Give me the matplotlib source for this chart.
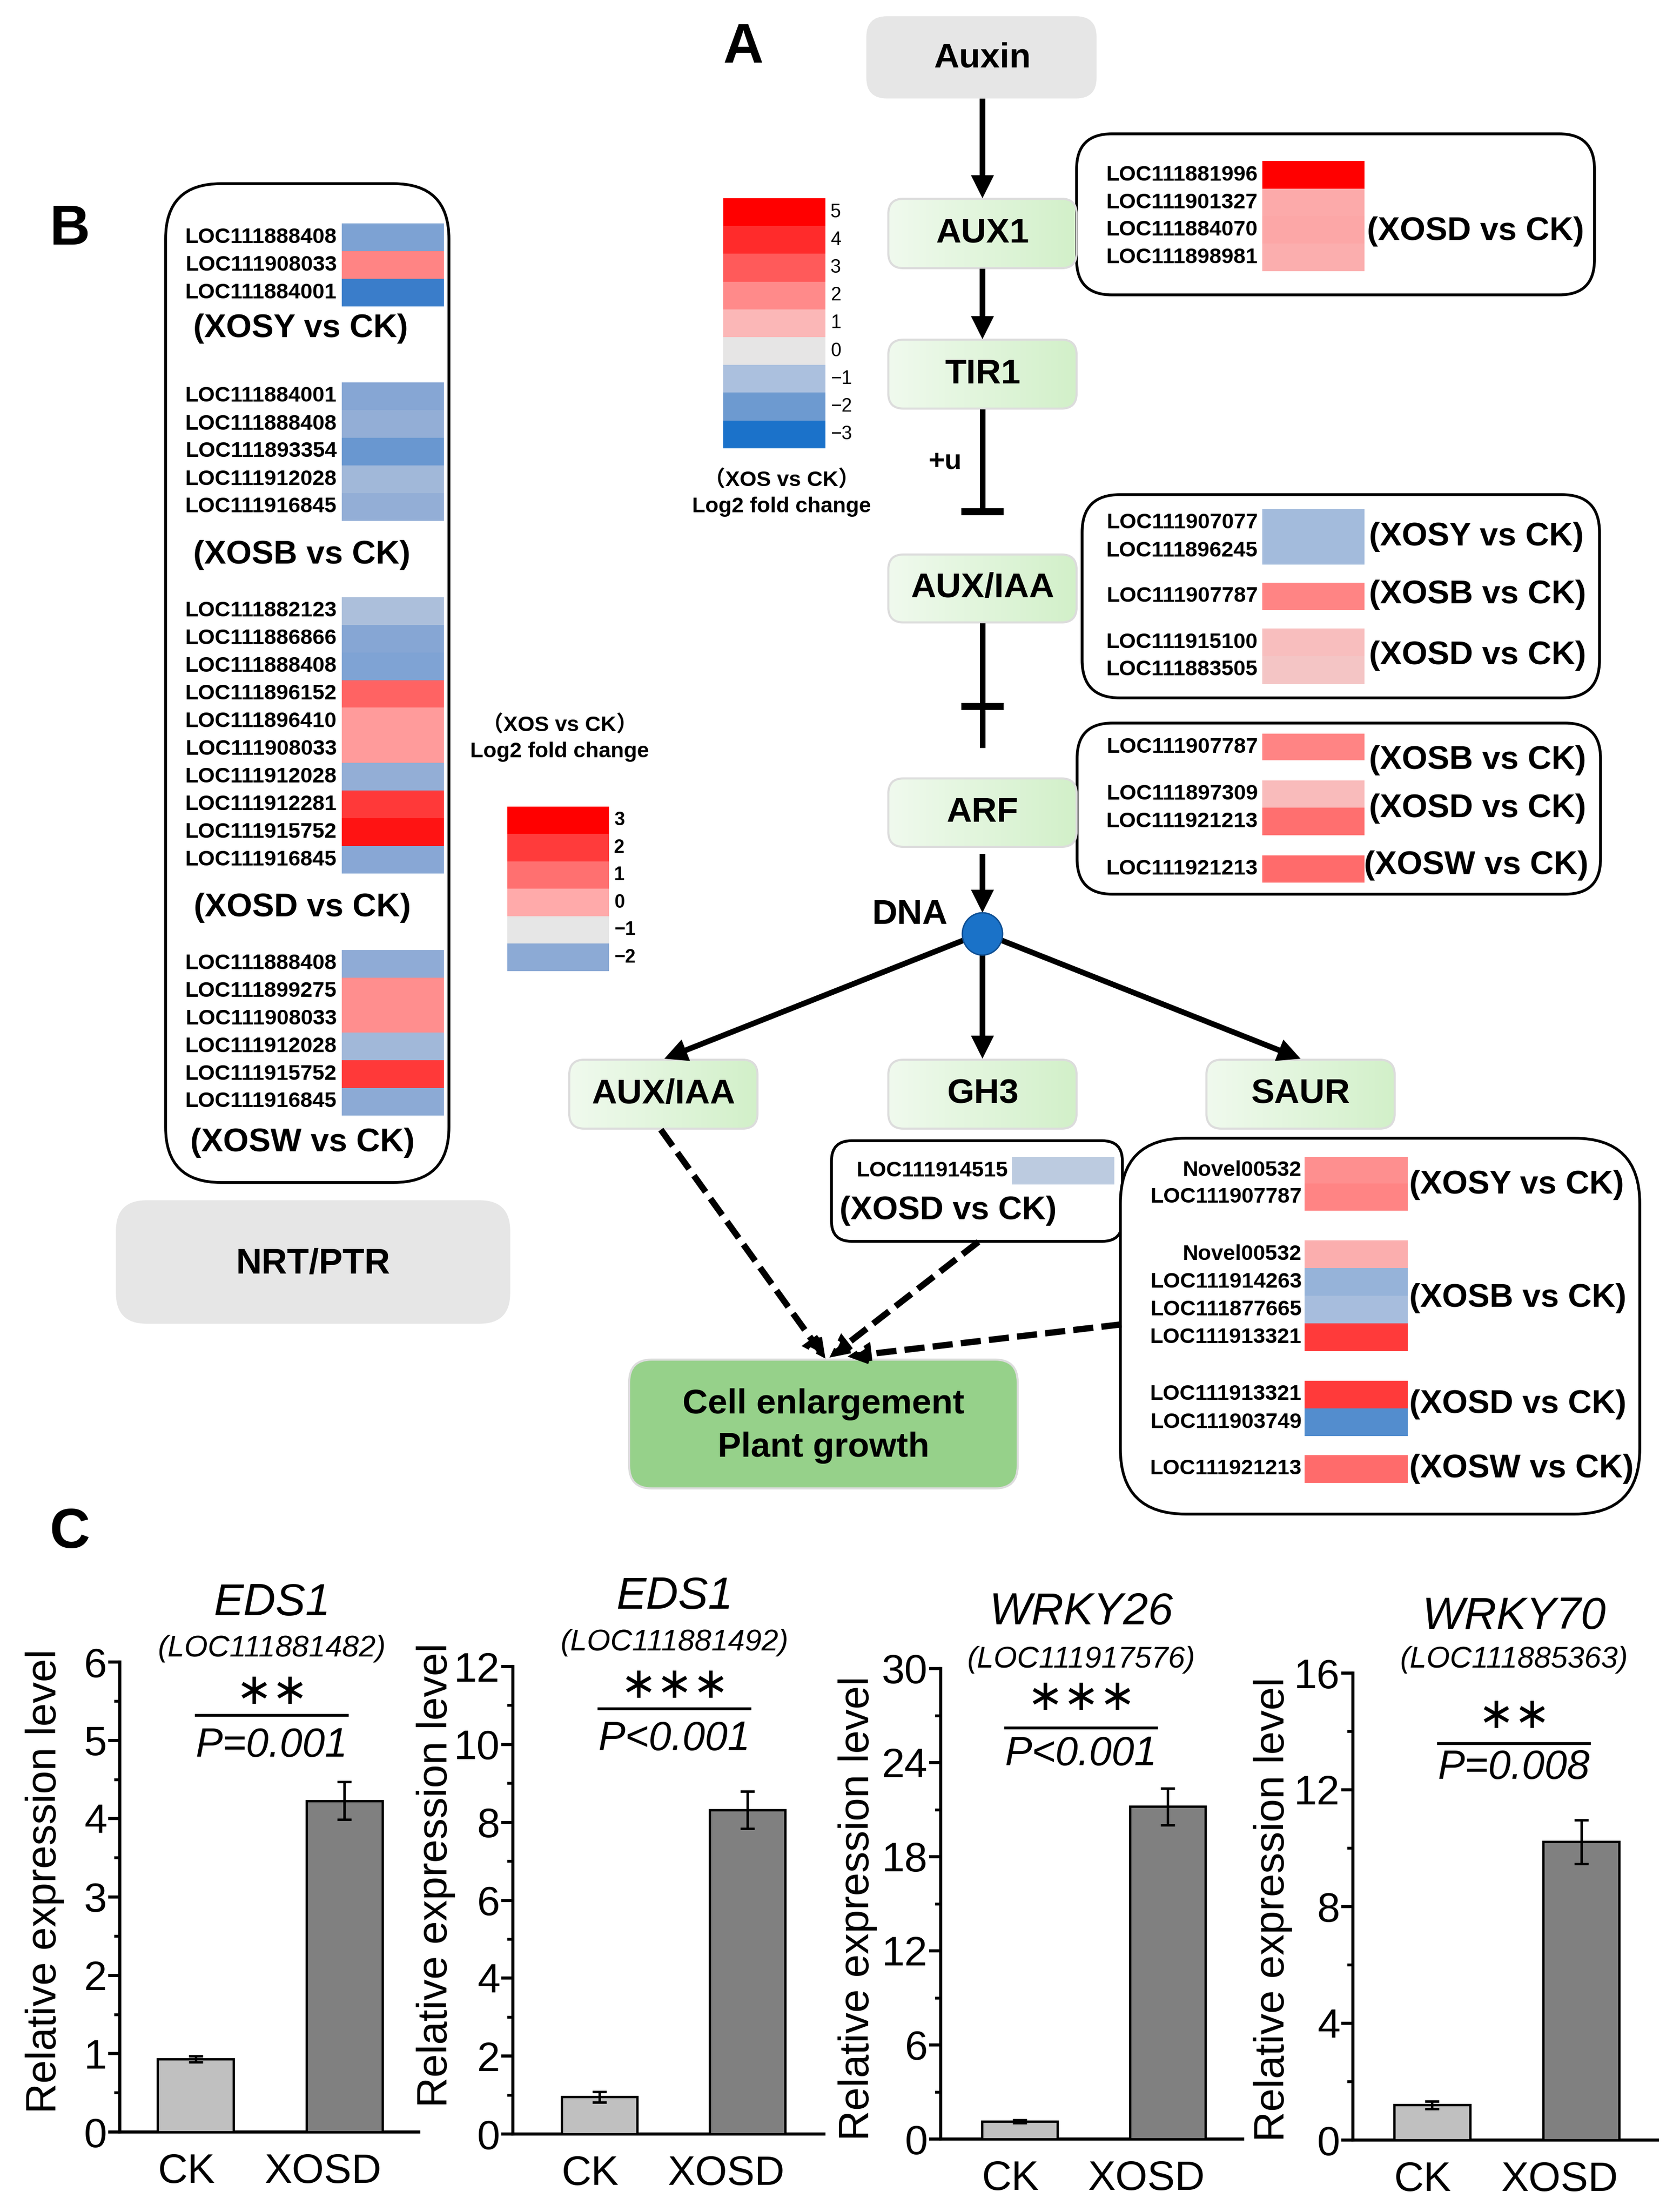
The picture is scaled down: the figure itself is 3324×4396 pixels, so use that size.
import numpy as np
import matplotlib
matplotlib.use("Agg")
import matplotlib.pyplot as plt
from matplotlib.patches import FancyBboxPatch, FancyArrowPatch, Ellipse
from matplotlib.colors import LinearSegmentedColormap, Normalize
from matplotlib.ticker import MultipleLocator
from matplotlib.transforms import ScaledTranslation

plt.rcParams["font.family"] = ["Liberation Sans", "Noto Sans CJK SC", "DejaVu Sans"]

W, H = 3324, 4396

# ---- colour legends ----
legend_a_levels = [5, 4, 3, 2, 1, 0, -1, -2, -3]
legend_a_colors = ["#ff0000", "#ff2d2d", "#ff5c5c", "#ff8b8b", "#fbb8b8",
                   "#e6e6e6", "#abc0de", "#6d9ad0", "#1b72ca"]
legend_b_levels = [3, 2, 1, 0, -1, -2]
legend_b_colors = ["#ff0000", "#ff3c3c", "#ff7070", "#ffabab", "#e6e6e6", "#8eabd6"]
legend_b_low = (-3, "#2f78c9")  # darkest blue used in panel B cells

# ---- panel B: log2 fold change ----
b_xosy_genes = ["LOC111888408", "LOC111908033", "LOC111884001"]
b_xosy_fc = [-2.16, 0.64, -2.88]
b_xosb_genes = ["LOC111884001", "LOC111888408", "LOC111893354", "LOC111912028", "LOC111916845"]
b_xosb_fc = [-2.07, -1.94, -2.39, -1.76, -1.94]
b_xosd_genes = ["LOC111882123", "LOC111886866", "LOC111888408", "LOC111896152", "LOC111896410",
                "LOC111908033", "LOC111912028", "LOC111912281", "LOC111915752", "LOC111916845"]
b_xosd_fc = [-1.66, -2.07, -2.15, 1.23, 0.27, 0.27, -1.94, 2.03, 2.65, -2.04]
b_xosw_genes = ["LOC111888408", "LOC111899275", "LOC111908033", "LOC111912028",
                "LOC111915752", "LOC111916845"]
b_xosw_fc = [-1.99, 0.47, 0.47, -1.77, 2.03, -2.0]

# ---- panel A: log2 fold change ----
aux1_xosd_genes = ["LOC111881996", "LOC111901327", "LOC111884070", "LOC111898981"]
aux1_xosd_fc = [5.0, 1.3, 1.35, 1.2]
iaa_xosy_genes = ["LOC111907077", "LOC111896245"]
iaa_xosy_fc = [-1.1, -1.1]
iaa_xosb_genes = ["LOC111907787"]
iaa_xosb_fc = [2.13]
iaa_xosd_genes = ["LOC111915100", "LOC111883505"]
iaa_xosd_fc = [0.85, 0.7]
arf_xosb_genes = ["LOC111907787"]
arf_xosb_fc = [2.13]
arf_xosd_genes = ["LOC111897309", "LOC111921213"]
arf_xosd_fc = [0.91, 2.57]
arf_xosw_genes = ["LOC111921213"]
arf_xosw_fc = [2.68]
gh3_xosd_genes = ["LOC111914515"]
gh3_xosd_fc = [-0.71]
saur_xosy_genes = ["Novel00532", "LOC111907787"]
saur_xosy_fc = [1.89, 2.13]
saur_xosb_genes = ["Novel00532", "LOC111914263", "LOC111877665", "LOC111913321"]
saur_xosb_fc = [1.2, -1.32, -1.05, 3.7]
saur_xosd_genes = ["LOC111913321", "LOC111903749"]
saur_xosd_fc = [3.7, -2.29]
saur_xosw_genes = ["LOC111921213"]
saur_xosw_fc = [2.68]

# ---- panel C: qRT-PCR ----
c_genes = ["EDS1", "EDS1", "WRKY26", "WRKY70"]
c_locus = ["(LOC111881482)", "(LOC111881492)", "(LOC111917576)", "(LOC111885363)"]
c_groups = ["CK", "XOSD"]
ck_mean = [0.93, 0.95, 1.12, 1.2]
ck_err = [0.04, 0.13, 0.1, 0.13]
xosd_mean = [4.23, 8.32, 21.2, 10.22]
xosd_err = [0.24, 0.48, 1.17, 0.75]
c_stars = ["\u2217\u2217", "\u2217\u2217\u2217", "\u2217\u2217\u2217", "\u2217\u2217"]
c_pvals = ["P=0.001", "P<0.001", "P<0.001", "P=0.008"]
c_ymax = [6, 12, 30, 16]
c_major = [1, 2, 6, 4]
c_minor = [0.5, 1, 3, 2]


def make_cmap(levels, colors, name):
    lo, hi = min(levels), max(levels)
    pairs = sorted(zip(levels, colors))
    return (LinearSegmentedColormap.from_list(name, [((l - lo) / (hi - lo), c) for l, c in pairs]),
            Normalize(lo, hi))


cmap_a, norm_a = make_cmap(legend_a_levels, legend_a_colors, "fcA")
cmap_b, norm_b = make_cmap(legend_b_levels + [legend_b_low[0]],
                           legend_b_colors + [legend_b_low[1]], "fcB")
green = LinearSegmentedColormap.from_list("green", ["#f0faee", "#d2f0c9"])

fig = plt.figure(figsize=(W / 100, H / 100), dpi=100)
ax = fig.add_axes([0, 0, 1, 1])
ax.set_xlim(0, W)
ax.set_ylim(H, 0)
ax.axis("off")


def txt(x, y, s, size, weight="bold", ha="center", va="center", **kw):
    ax.text(x, y, s, fontsize=size, fontweight=weight, ha=ha, va=va, zorder=6, **kw)


def rbox(x0, y0, x1, y1, r, fc="white", ec="black", lw=4, z=2):
    p = FancyBboxPatch((x0, y0), x1 - x0, y1 - y0,
                       boxstyle=f"round,pad=0,rounding_size={r}",
                       fc=fc, ec=ec, lw=lw, zorder=z)
    ax.add_patch(p)
    return p


def green_box(xc, y0, y1, label, w=374, r=30):
    x0, x1 = xc - w / 2, xc + w / 2
    p = rbox(x0, y0, x1, y1, r, fc="none", ec="#dcdcdc", lw=3, z=3)
    im = ax.imshow(np.linspace(0, 1, 256).reshape(1, -1), cmap=green,
                   extent=(x0, x1, y1, y0), aspect="auto", zorder=2)
    im.set_clip_path(p)
    txt(xc, (y0 + y1) / 2, label, 50)


def arrow(p0, p1, lw=8, ms=50, ls="-"):
    a = FancyArrowPatch(p0, p1, arrowstyle="-|>", mutation_scale=ms, lw=lw,
                        color="black", shrinkA=0, shrinkB=0, linestyle=ls,
                        joinstyle="miter", capstyle="butt", zorder=4)
    ax.add_patch(a)


def heat(genes, fc, cmap, norm, cx0, cx1, y_top, row_h, name_x, label, lx, ly, lha="left"):
    n = len(genes)
    ax.imshow(np.asarray(fc, dtype=float).reshape(-1, 1), cmap=cmap, norm=norm,
              extent=(cx0, cx1, y_top + n * row_h, y_top), aspect="auto",
              interpolation="nearest", zorder=3)
    for i, g in enumerate(genes):
        txt(name_x, y_top + (i + 0.5) * row_h, g, 31, ha="right")
    txt(lx, ly, label, 47, ha=lha)


def legend(levels, cmap, norm, x0, x1, y_top, row_h, weight, cap_x, cap_y):
    n = len(levels)
    ax.imshow(np.asarray(levels, dtype=float).reshape(-1, 1), cmap=cmap, norm=norm,
              extent=(x0, x1, y_top + n * row_h, y_top), aspect="auto",
              interpolation="nearest", zorder=3)
    for i, v in enumerate(levels):
        lab = str(v) if v >= 0 else "\u2212" + str(-v)
        txt(x1 + 10, y_top + (i + 0.5) * row_h, lab, 27, weight=weight, ha="left")
    txt(cap_x, cap_y, "\uff08XOS vs CK\uff09", 31)
    txt(cap_x, cap_y + 53, "Log2 fold change", 31)


# ================= panel A =================
txt(1476, 95, "A", 80)
cx = 1952
rbox(1722, 33, 2178, 195, 40, fc="#e6e6e6", ec="#e6e6e6", lw=1)
txt(cx, 115, "Auxin", 50)
green_box(cx, 395, 533, "AUX1")
green_box(cx, 675, 812, "TIR1")
green_box(cx, 1102, 1237, "AUX/IAA")
green_box(cx, 1547, 1683, "ARF")
green_box(1318, 2106, 2243, "AUX/IAA")
green_box(cx, 2106, 2243, "GH3")
green_box(2584, 2106, 2243, "SAUR")

arrow((cx, 196), (cx, 394))
arrow((cx, 534), (cx, 674))
ax.plot([cx, cx], [813, 1017], color="black", lw=8, solid_capstyle="butt", zorder=4)
ax.plot([cx - 42, cx + 42], [1017, 1017], color="black", lw=10, solid_capstyle="butt", zorder=4)
txt(1878, 917, "+u", 40)
ax.plot([cx, cx], [1238, 1486], color="black", lw=8, solid_capstyle="butt", zorder=4)
ax.plot([cx - 42, cx + 42], [1404, 1404], color="black", lw=10, solid_capstyle="butt", zorder=4)
arrow((cx, 1697), (cx, 1814))
ax.add_patch(Ellipse((cx, 1856), 80, 84, fc="#1a72c8", ec="#0e4f93", lw=2, zorder=5))
txt(1808, 1818, "DNA", 50)
arrow((1916, 1868), (1320, 2104))
arrow((cx, 1898), (cx, 2104))
arrow((1988, 1868), (2584, 2104))

# outcome box
rbox(1250, 2702, 2022, 2958, 45, fc="#96d18a", ec="#dcdcdc", lw=3)
txt(1636, 2791, "Cell enlargement", 50)
txt(1636, 2877, "Plant growth", 50)
dash = (0, (3.2, 1.3))
arrow((1313, 2245), (1640, 2700), lw=9, ms=50, ls=dash)
arrow((1944, 2468), (1648, 2698), lw=9, ms=50, ls=dash)
arrow((2228, 2632), (1684, 2696), lw=9, ms=50, ls=dash)

legend(legend_a_levels, cmap_a, norm_a, 1437, 1640, 394, 55.2, "normal", 1553, 954)

# annotation boxes, right column
rbox(2139, 266, 3168, 586, 70)
heat(aux1_xosd_genes, aux1_xosd_fc, cmap_a, norm_a, 2508, 2711, 321, 54.6, 2499,
     "(XOSD vs CK)", 2716, 460)

rbox(2150, 983, 3178, 1387, 75)
heat(iaa_xosy_genes, iaa_xosy_fc, cmap_a, norm_a, 2508, 2711, 1012, 55, 2499,
     "(XOSY vs CK)", 2720, 1067)
heat(iaa_xosb_genes, iaa_xosb_fc, cmap_a, norm_a, 2508, 2711, 1158, 54, 2499,
     "(XOSB vs CK)", 2720, 1182)
heat(iaa_xosd_genes, iaa_xosd_fc, cmap_a, norm_a, 2508, 2711, 1249, 55, 2499,
     "(XOSD vs CK)", 2720, 1303)

rbox(2140, 1437, 3180, 1777, 70)
heat(arf_xosb_genes, arf_xosb_fc, cmap_a, norm_a, 2508, 2711, 1458, 53, 2499,
     "(XOSB vs CK)", 2720, 1511)
heat(arf_xosd_genes, arf_xosd_fc, cmap_a, norm_a, 2508, 2711, 1551, 54.5, 2499,
     "(XOSD vs CK)", 2720, 1607)
heat(arf_xosw_genes, arf_xosw_fc, cmap_a, norm_a, 2508, 2711, 1700, 54, 2499,
     "(XOSW vs CK)", 2710, 1720)

rbox(1652, 2267, 2230, 2467, 40)
heat(gh3_xosd_genes, gh3_xosd_fc, cmap_a, norm_a, 2011, 2214, 2299, 55, 2002,
     "(XOSD vs CK)", 1884, 2406, lha="center")

rbox(2226, 2262, 3258, 3009, 130)
heat(saur_xosy_genes, saur_xosy_fc, cmap_a, norm_a, 2592, 2797, 2299, 53.5, 2586,
     "(XOSY vs CK)", 2800, 2355)
heat(saur_xosb_genes, saur_xosb_fc, cmap_a, norm_a, 2592, 2797, 2466, 54.8, 2586,
     "(XOSB vs CK)", 2800, 2580)
heat(saur_xosd_genes, saur_xosd_fc, cmap_a, norm_a, 2592, 2797, 2744, 55, 2586,
     "(XOSD vs CK)", 2800, 2791)
heat(saur_xosw_genes, saur_xosw_fc, cmap_a, norm_a, 2592, 2797, 2892, 55, 2586,
     "(XOSW vs CK)", 2800, 2919)

# ================= panel B =================
txt(139, 457, "B", 80)
rbox(329, 365, 892, 2350, 110)
heat(b_xosy_genes, b_xosy_fc, cmap_b, norm_b, 679, 882, 445, 54.7, 669,
     "(XOSY vs CK)", 597, 653, lha="center")
heat(b_xosb_genes, b_xosb_fc, cmap_b, norm_b, 679, 882, 760, 55, 669,
     "(XOSB vs CK)", 600, 1103, lha="center")
heat(b_xosd_genes, b_xosd_fc, cmap_b, norm_b, 679, 882, 1187, 54.9, 669,
     "(XOSD vs CK)", 601, 1804, lha="center")
heat(b_xosw_genes, b_xosw_fc, cmap_b, norm_b, 679, 882, 1888, 54.8, 669,
     "(XOSW vs CK)", 601, 2271, lha="center")
legend(legend_b_levels, cmap_b, norm_b, 1008, 1210, 1603, 54.5, "bold", 1112, 1441)

rbox(231, 2386, 1013, 2630, 60, fc="#e6e6e6", ec="#e6e6e6", lw=1)
txt(622, 2512, "NRT/PTR", 51)

# ================= panel C =================
txt(139, 3047, "C", 80)
chart_px = [(238, 832, 3303, 4237), (1019, 1637, 3312, 4241),
            (1869, 2469, 3316, 4251), (2688, 3293, 3325, 4253)]
chart_xlim = [(-0.51, 1.50), (-0.585, 1.517), (-0.534, 1.507), (-0.53, 1.51)]
ylabel_pos = [(-0.25, 0.534), (-0.248, 0.554), (-0.275, 0.49), (-0.263, 0.494)]
label_shift = [-18, -43]  # px, tick labels sit left of bar centres
text_cx = [540, 1340, 2148, 3008]
title_y = [3187, 3174, 3205, 3214]
locus_y = [3276, 3265, 3298, 3298]
star_y = [3362, 3350, 3375, 3410]
line_y = [3409, 3396, 3434, 3465]
p_y = [3470, 3457, 3487, 3514]
bar_colors = ["#c0c0c0", "#808080"]

for i in range(4):
    x0, x1, y0, y1 = chart_px[i]
    bax = fig.add_axes([x0 / W, 1 - y1 / H, (x1 - x0) / W, (y1 - y0) / H])
    bax.patch.set_visible(False)
    bax.bar(range(2), [ck_mean[i], xosd_mean[i]], width=0.51, color=bar_colors,
            edgecolor="black", linewidth=3.3, yerr=[ck_err[i], xosd_err[i]],
            error_kw=dict(ecolor="black", elinewidth=3.5, capsize=10, capthick=3.5),
            zorder=3)
    bax.set_xlim(*chart_xlim[i])
    bax.set_ylim(0, c_ymax[i])
    bax.yaxis.set_major_locator(MultipleLocator(c_major[i]))
    bax.yaxis.set_minor_locator(MultipleLocator(c_minor[i]))
    for s in ["top", "right"]:
        bax.spines[s].set_visible(False)
    for s in ["left", "bottom"]:
        bax.spines[s].set_linewidth(4.5)
    bax.tick_params(axis="y", which="major", direction="out", length=16.5, width=4.5,
                    labelsize=59, pad=2)
    bax.tick_params(axis="y", which="minor", direction="out", length=8, width=4)
    bax.tick_params(axis="x", length=0, labelsize=59, pad=30)
    bax.set_xticks(range(2))
    bax.set_xticklabels(c_groups)
    for lab, dx in zip(bax.get_xticklabels(), label_shift):
        lab.set_transform(lab.get_transform() + ScaledTranslation(dx / 100, 0, fig.dpi_scale_trans))
    bax.set_ylabel("Relative expression level", fontsize=60)
    bax.yaxis.set_label_coords(*ylabel_pos[i])
    bax.yaxis.label.set_verticalalignment("center")

    cxp = text_cx[i]
    txt(cxp, title_y[i], c_genes[i], 64, weight="normal", style="italic")
    txt(cxp, locus_y[i], c_locus[i], 43, weight="normal", style="italic")
    txt(cxp, star_y[i], c_stars[i], 62, weight="normal", family="DejaVu Sans")
    ax.plot([cxp - 150, cxp + 150], [line_y[i], line_y[i]], color="black", lw=4, zorder=6)
    txt(cxp, p_y[i], c_pvals[i], 58, weight="normal", style="italic")

ax.set_xlim(0, W)
ax.set_ylim(H, 0)
fig.savefig("out.png", dpi=100)
